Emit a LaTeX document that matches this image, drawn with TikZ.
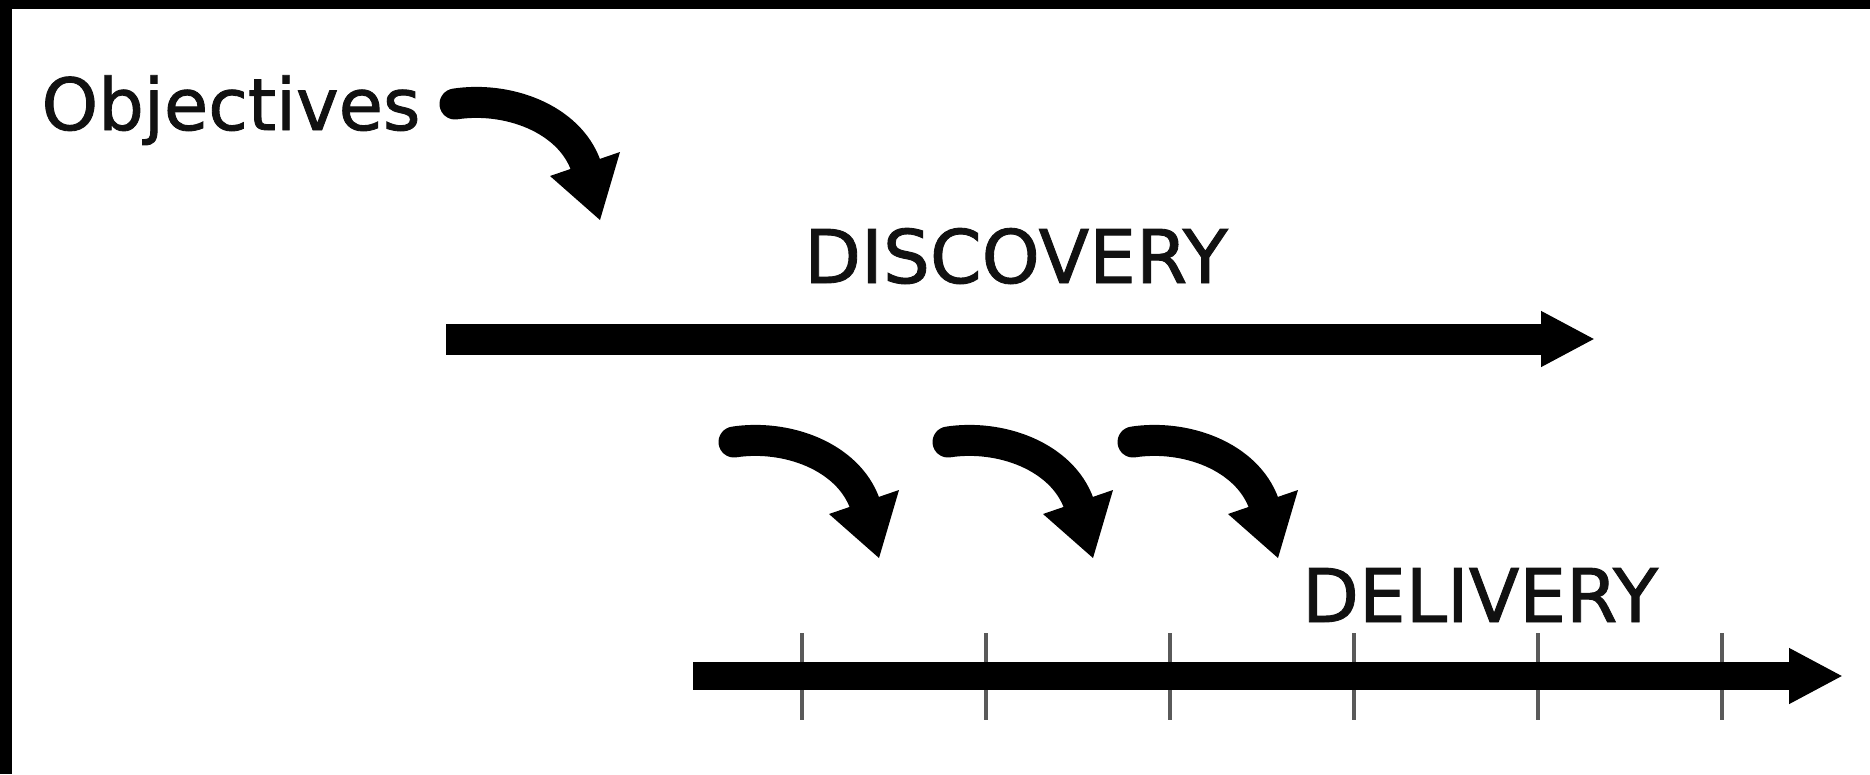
\documentclass[tikz,border=0pt]{standalone}
\usepackage{fontspec}
\setmainfont{DejaVu Sans}[FakeBold=1.2]
\usetikzlibrary{arrows.meta}

\definecolor{ink}{HTML}{111111}
\definecolor{tickgray}{HTML}{5A5A5A}

\tikzset{
  label/.style={inner sep=0pt, anchor=base, text=ink,
    font=\fontsize{72}{86}\selectfont},
  caplabel/.style={label, font=\fontsize{74}{88}\selectfont},
  % thick straight timeline arrow with a broad triangular head
  fatarrow/.style 2 args={draw=black, line width=#1,
    -{Triangle[length=54pt,width=#2]}},
  tickmark/.style={draw=tickgray, line width=4pt},
  % curved "next step" arrow: round tail, bent shaft, triangular head
  bendarrow/.pic={
    \draw[black, line width=31pt, line cap=round]
      (0,0) .. controls (52,-8) and (114,14) .. (131,62);
    \fill[black] (95,72) -- (145,116) -- (165,48) -- cycle;
  }
}

\begin{document}
\begin{tikzpicture}[x=1pt, y=-1pt]
  \useasboundingbox (0,0) rectangle (1870,774);
  \fill[white] (0,0) rectangle (1870,774);
  % dark frame edges along the top and left
  \fill[black] (0,0) rectangle (1870,9);
  \fill[black] (0,0) rectangle (12,774);

  % labels
  \node[label] (obj)  at (231,130) {Objectives};
  \node[caplabel] (disc) at (1016,283) {DISCOVERY};
  \node[caplabel] (deli) at (1480,622) {DELIVERY};

  % discovery timeline
  \coordinate (discA) at (446,339);
  \coordinate (discB) at (1595,339);
  \draw[fatarrow={31pt}{52pt}] (discA) -- (discB);

  % delivery timeline with its iteration ticks
  \coordinate (deliA) at (693,676);
  \coordinate (deliB) at (1843,676);
  \foreach \i/\x in {1/802,2/986,3/1170,4/1354,5/1538,6/1722} {
    \coordinate (tt\i) at (\x,633);
    \coordinate (tb\i) at (\x,720);
    \draw[tickmark] (tt\i) -- (tb\i);
  }
  \draw[fatarrow={28pt}{52pt}] (deliA) -- (deliB);

  % curved arrows
  \coordinate (objArrow) at (455,104);
  \pic at (objArrow) {bendarrow};
  \coordinate (stepA) at (734,442);
  \coordinate (stepB) at (948,442);
  \coordinate (stepC) at (1133,442);
  \pic at (stepA) {bendarrow};
  \pic at (stepB) {bendarrow};
  \pic at (stepC) {bendarrow};
\end{tikzpicture}
\end{document}
